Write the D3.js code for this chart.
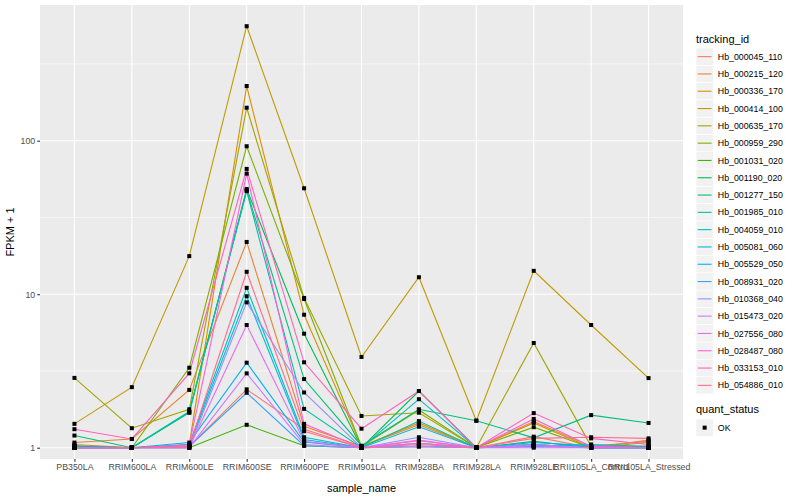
<!DOCTYPE html>
<html lang="en">
<head>
<meta charset="UTF-8">
<title>FPKM by sample</title>
<script src="https://d3js.org/d3.v7.min.js"></script>
<style>
  body { margin: 0; background: #fff; }
  text { font-family: "Liberation Sans", Arial, sans-serif; }
</style>
</head>
<body>
<div id="chart"></div>
<script>
// categories on the x axis
const samples = ["PB350LA", "RRIM600LA", "RRIM600LE", "RRIM600SE", "RRIM600PE", "RRIM901LA",
  "RRIM928BA", "RRIM928LA", "RRIM928LE", "RRII105LA_Control", "RRII105LA_Stressed"];

// FPKM + 1 per gene, one value per sample
const Hb_000045_110 = [1.02, 1.00, 1.02, 2.40, 1.32, 1.00, 1.11, 1.00, 1.18, 1.00, 1.12];
const Hb_000215_120 = [1.08, 1.14, 2.38, 21.9, 1.38, 1.02, 1.41, 1.00, 1.48, 1.02, 1.10];
const Hb_000336_170 = [1.05, 1.00, 1.05, 227, 7.35, 1.02, 1.45, 1.00, 1.45, 1.00, 1.08];
const Hb_000414_100 = [1.43, 2.48, 17.7, 557, 49.0, 3.90, 12.9, 1.50, 14.2, 6.30, 2.84];
const Hb_000635_170 = [2.85, 1.34, 1.78, 164, 9.45, 1.61, 1.69, 1.00, 4.81, 1.02, 1.00];
const Hb_000959_290 = [1.00, 1.00, 3.32, 92.0, 9.30, 1.02, 1.76, 1.00, 1.36, 1.00, 1.02];
const Hb_001031_020 = [1.00, 1.00, 1.00, 1.41, 1.03, 1.00, 1.02, 1.00, 1.05, 1.00, 1.00];
const Hb_001190_020 = [1.00, 1.00, 1.69, 48.5, 5.53, 1.00, 2.34, 1.00, 1.10, 1.00, 1.00];
const Hb_001277_150 = [1.20, 1.00, 1.72, 47.5, 2.80, 1.03, 1.78, 1.50, 1.16, 1.63, 1.45];
const Hb_001985_010 = [1.02, 1.00, 1.70, 47.0, 1.79, 1.00, 1.49, 1.00, 1.03, 1.00, 1.00];
const Hb_004059_010 = [1.00, 1.00, 1.05, 11.0, 1.17, 1.00, 2.07, 1.00, 1.02, 1.05, 1.02];
const Hb_005081_060 = [1.00, 1.00, 1.03, 9.70, 1.13, 1.00, 1.37, 1.00, 1.05, 1.00, 1.00];
const Hb_005529_050 = [1.03, 1.00, 1.08, 3.58, 1.09, 1.00, 1.07, 1.00, 1.08, 1.03, 1.00];
const Hb_008931_020 = [1.00, 1.00, 1.02, 2.28, 1.03, 1.00, 1.02, 1.00, 1.02, 1.00, 1.00];
const Hb_010368_040 = [1.00, 1.00, 1.00, 8.85, 2.29, 1.00, 1.17, 1.00, 1.05, 1.00, 1.00];
const Hb_015473_020 = [1.00, 1.00, 1.00, 3.05, 1.05, 1.00, 1.02, 1.00, 1.00, 1.00, 1.00];
const Hb_027556_080 = [1.00, 1.00, 1.00, 6.30, 1.10, 1.00, 1.12, 1.00, 1.03, 1.00, 1.00];
const Hb_028487_080 = [1.00, 1.00, 1.04, 61.0, 1.43, 1.00, 1.07, 1.00, 1.54, 1.02, 1.00];
const Hb_033153_010 = [1.32, 1.14, 3.05, 65.5, 3.60, 1.33, 2.34, 1.00, 1.68, 1.15, 1.05];
const Hb_054886_010 = [1.00, 1.00, 1.02, 14.0, 1.28, 1.00, 1.05, 1.00, 1.15, 1.17, 1.15];

const trackingIds = ["Hb_000045_110", "Hb_000215_120", "Hb_000336_170", "Hb_000414_100",
  "Hb_000635_170", "Hb_000959_290", "Hb_001031_020", "Hb_001190_020", "Hb_001277_150",
  "Hb_001985_010", "Hb_004059_010", "Hb_005081_060", "Hb_005529_050", "Hb_008931_020",
  "Hb_010368_040", "Hb_015473_020", "Hb_027556_080", "Hb_028487_080", "Hb_033153_010",
  "Hb_054886_010"];
const seriesValues = [Hb_000045_110, Hb_000215_120, Hb_000336_170, Hb_000414_100,
  Hb_000635_170, Hb_000959_290, Hb_001031_020, Hb_001190_020, Hb_001277_150,
  Hb_001985_010, Hb_004059_010, Hb_005081_060, Hb_005529_050, Hb_008931_020,
  Hb_010368_040, Hb_015473_020, Hb_027556_080, Hb_028487_080, Hb_033153_010,
  Hb_054886_010];

// ggplot default hue palette for 20 levels
const hueColors = ["#F8766D", "#EA8331", "#D89000", "#C09B00", "#A3A500", "#7CAE00",
  "#39B600", "#00BB4E", "#00BF7D", "#00C1A3", "#00BFC4", "#00BAE0", "#00B0F6", "#35A2FF",
  "#9590FF", "#C77CFF", "#E76BF3", "#FA62DB", "#FF62BC", "#FF6C91"];

const yTicks = [1, 10, 100];
const yMinor = [Math.sqrt(10), Math.sqrt(1000), Math.sqrt(100000)];
const yLimits = [Math.pow(10, -0.0736), Math.pow(10, 2.884)];

const W = 800, H = 500;
const panel = { left: 40, right: 683, top: 5, bottom: 459 };

const svg = d3.select("#chart").append("svg")
  .attr("width", W).attr("height", H);

const x = d3.scalePoint()
  .domain(samples)
  .range([panel.left, panel.right])
  .padding(0.6);

const y = d3.scaleLog()
  .domain(yLimits)
  .range([panel.bottom, panel.top]);

// panel background
svg.append("rect")
  .attr("x", panel.left).attr("y", panel.top)
  .attr("width", panel.right - panel.left)
  .attr("height", panel.bottom - panel.top)
  .attr("fill", "#EBEBEB");

// grid
const grid = svg.append("g");
grid.selectAll(".minor").data(yMinor.filter(v => v > yLimits[0] && v < yLimits[1]))
  .join("line")
  .attr("x1", panel.left).attr("x2", panel.right)
  .attr("y1", d => y(d)).attr("y2", d => y(d))
  .attr("stroke", "#fff").attr("stroke-width", 0.55);
grid.selectAll(".ymaj").data(yTicks)
  .join("line")
  .attr("x1", panel.left).attr("x2", panel.right)
  .attr("y1", d => y(d)).attr("y2", d => y(d))
  .attr("stroke", "#fff").attr("stroke-width", 1.1);
grid.selectAll(".xmaj").data(samples)
  .join("line")
  .attr("x1", d => x(d)).attr("x2", d => x(d))
  .attr("y1", panel.top).attr("y2", panel.bottom)
  .attr("stroke", "#fff").attr("stroke-width", 1.1);

// lines
const series = trackingIds.map((id, i) => ({
  id, color: hueColors[i],
  values: seriesValues[i].map((v, j) => ({ sample: samples[j], v }))
}));

const line = d3.line()
  .x(d => x(d.sample))
  .y(d => y(d.v));

svg.append("g").selectAll("path")
  .data(series)
  .join("path")
  .attr("fill", "none")
  .attr("stroke", d => d.color)
  .attr("stroke-width", 1.1)
  .attr("d", d => line(d.values));

// points
svg.append("g").selectAll("rect")
  .data(series.flatMap(s => s.values))
  .join("rect")
  .attr("x", d => x(d.sample) - 2)
  .attr("y", d => y(d.v) - 2)
  .attr("width", 4).attr("height", 4)
  .attr("fill", "#000");

// y axis
const yAxis = svg.append("g")
  .attr("transform", `translate(${panel.left},0)`)
  .call(d3.axisLeft(y).tickValues(yTicks).tickFormat(d3.format("d")).tickSizeOuter(0).tickSize(2.75).tickPadding(2));
yAxis.select(".domain").remove();
yAxis.selectAll("line").attr("stroke", "#333333").attr("stroke-width", 1.1);
yAxis.selectAll("text").attr("fill", "#4D4D4D").attr("font-size", 8.8)
  .attr("font-family", "Liberation Sans, Arial, sans-serif");

// x axis
const xAxis = svg.append("g")
  .attr("transform", `translate(0,${panel.bottom})`)
  .call(d3.axisBottom(x).tickSizeOuter(0).tickSize(2.75).tickPadding(2));
xAxis.select(".domain").remove();
xAxis.selectAll("line").attr("stroke", "#333333").attr("stroke-width", 1.1);
xAxis.selectAll("text").attr("fill", "#4D4D4D").attr("font-size", 8.8)
  .attr("font-family", "Liberation Sans, Arial, sans-serif");

// axis titles
svg.append("text")
  .attr("x", (panel.left + panel.right) / 2).attr("y", 492)
  .attr("text-anchor", "middle").attr("font-size", 11).attr("fill", "#000")
  .text("sample_name");
svg.append("text")
  .attr("transform", `translate(14,${(panel.top + panel.bottom) / 2}) rotate(-90)`)
  .attr("text-anchor", "middle").attr("font-size", 11).attr("fill", "#000")
  .text("FPKM + 1");

// legend: tracking_id
const legX = 696, legY0 = 48, keyH = 17.3, keyW = 17.3;
svg.append("text")
  .attr("x", legX).attr("y", 43).attr("font-size", 11).attr("fill", "#000")
  .text("tracking_id");
const leg = svg.append("g").selectAll("g")
  .data(series)
  .join("g")
  .attr("transform", (d, i) => `translate(${legX},${legY0 + i * keyH})`);
leg.append("rect")
  .attr("width", keyW).attr("height", keyH)
  .attr("fill", "#F2F2F2").attr("stroke", "#fff").attr("stroke-width", 0.6);
leg.append("line")
  .attr("x1", 1.7).attr("x2", keyW - 1.7)
  .attr("y1", keyH / 2).attr("y2", keyH / 2)
  .attr("stroke", d => d.color).attr("stroke-width", 1.1);
leg.append("text")
  .attr("x", keyW + 4.5).attr("y", keyH / 2 + 3.1)
  .attr("font-size", 8.8).attr("fill", "#000")
  .text(d => d.id);

// legend: quant_status
const qY = legY0 + series.length * keyH + 17;
svg.append("text")
  .attr("x", legX).attr("y", qY + 2).attr("font-size", 11).attr("fill", "#000")
  .text("quant_status");
const q = svg.append("g").attr("transform", `translate(${legX},${qY + 8})`);
q.append("rect").attr("width", keyW).attr("height", keyH)
  .attr("fill", "#F2F2F2").attr("stroke", "#fff").attr("stroke-width", 0.6);
q.append("rect").attr("x", keyW / 2 - 2).attr("y", keyH / 2 - 2)
  .attr("width", 4).attr("height", 4).attr("fill", "#000");
q.append("text").attr("x", keyW + 4.5).attr("y", keyH / 2 + 3.1)
  .attr("font-size", 8.8).attr("fill", "#000").text("OK");
</script>
</body>
</html>
